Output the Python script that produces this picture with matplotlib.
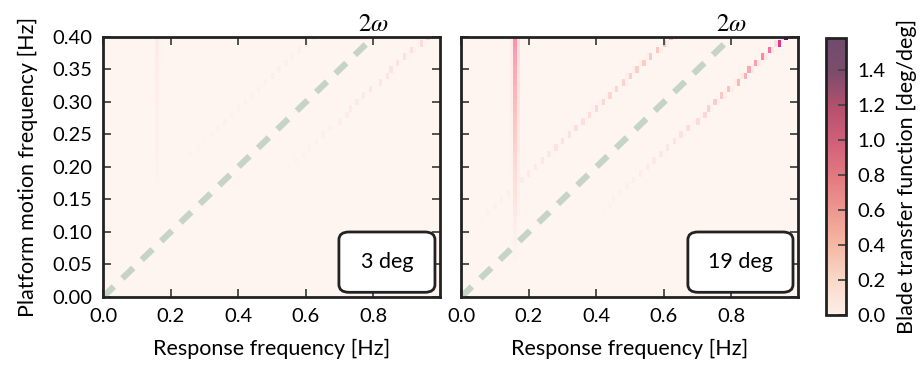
"""
Blade transfer function maps for two platform pitch amplitudes.
"""

import numpy as np
import matplotlib
matplotlib.use("Agg")
import matplotlib.pyplot as plt
from matplotlib.colors import LinearSegmentedColormap, Normalize
from matplotlib.patches import FancyBboxPatch
from matplotlib.cm import ScalarMappable

plt.rcParams["font.family"] = ["Lato", "DejaVu Sans"]
plt.rcParams["mathtext.fontset"] = "stix"

# grid of the maps
response_freq = np.round(np.arange(0.0, 1.0, 0.01), 2)      # columns [Hz]
platform_freq = np.round(np.arange(0.0, 0.405, 0.01), 2)    # rows [Hz]

# feature positions (response frequency)
blade_freq = 0.16           # vertical line
upper_offset = -0.18        # ridge at 2*f_platform + offset
lower_offset = 0.155

background = 0.02

# amplitudes per platform frequency row (0.00 ... 0.40)
amp3_vertical = [0.0, 0.0, 0.0, 0.0, 0.0, 0.01, 0.01, 0.01, 0.01, 0.01,
                 0.02, 0.02, 0.02, 0.02, 0.03, 0.03, 0.03, 0.03, 0.04, 0.04,
                 0.04, 0.04, 0.05, 0.05, 0.05, 0.05, 0.06, 0.06, 0.06, 0.06,
                 0.07, 0.07, 0.07, 0.08, 0.08, 0.08, 0.09, 0.09, 0.10, 0.10, 0.11]
amp3_upper = [0.0, 0.0, 0.0, 0.0, 0.0, 0.0, 0.0, 0.0, 0.0, 0.0,
              0.0, 0.0, 0.01, 0.01, 0.01, 0.02, 0.02, 0.02, 0.03, 0.03,
              0.03, 0.03, 0.04, 0.04, 0.04, 0.04, 0.05, 0.05, 0.05, 0.05,
              0.06, 0.06, 0.06, 0.06, 0.07, 0.07, 0.07, 0.07, 0.08, 0.08, 0.08]
amp3_lower = [0.0, 0.0, 0.0, 0.0, 0.0, 0.0, 0.0, 0.0, 0.0, 0.0,
              0.0, 0.0, 0.0, 0.0, 0.0, 0.01, 0.02, 0.02, 0.03, 0.03,
              0.04, 0.04, 0.05, 0.05, 0.06, 0.07, 0.07, 0.08, 0.09, 0.10,
              0.11, 0.12, 0.13, 0.14, 0.15, 0.16, 0.17, 0.19, 0.21, 0.23, 0.25]

amp19_vertical = [0.01, 0.01, 0.02, 0.02, 0.03, 0.03, 0.04, 0.04, 0.05, 0.06,
                  0.07, 0.08, 0.09, 0.11, 0.13, 0.15, 0.17, 0.19, 0.20, 0.22,
                  0.24, 0.26, 0.28, 0.30, 0.32, 0.34, 0.36, 0.38, 0.40, 0.42,
                  0.44, 0.46, 0.48, 0.50, 0.52, 0.54, 0.56, 0.58, 0.60, 0.63, 0.66]
amp19_upper = [0.0, 0.0, 0.0, 0.0, 0.0, 0.0, 0.0, 0.0, 0.0, 0.01,
               0.02, 0.03, 0.04, 0.05, 0.06, 0.07, 0.08, 0.09, 0.10, 0.11,
               0.12, 0.13, 0.14, 0.16, 0.17, 0.18, 0.20, 0.21, 0.22, 0.24,
               0.25, 0.27, 0.28, 0.30, 0.31, 0.33, 0.34, 0.36, 0.38, 0.40, 0.42]
amp19_lower = [0.0, 0.0, 0.0, 0.0, 0.0, 0.0, 0.0, 0.0, 0.0, 0.0,
               0.02, 0.03, 0.03, 0.04, 0.04, 0.05, 0.06, 0.07, 0.08, 0.09,
               0.10, 0.11, 0.13, 0.14, 0.16, 0.18, 0.20, 0.23, 0.26, 0.30,
               0.34, 0.38, 0.42, 0.46, 0.50, 0.55, 0.60, 0.67, 0.76, 0.98, 1.45]

panel_labels = ["3 deg", "19 deg"]

# 2*omega reference line
twice_x = [0.0, 0.8]
twice_y = [0.0, 0.4]

x_ticks = [0.0, 0.2, 0.4, 0.6, 0.8]
y_ticks = [0.00, 0.05, 0.10, 0.15, 0.20, 0.25, 0.30, 0.35, 0.40]
cbar_ticks = [0.0, 0.2, 0.4, 0.6, 0.8, 1.0, 1.2, 1.4]
vmax = 1.58

cbar_colors = ["#fcefe8", "#f9d8c8", "#f5b8a5", "#ee9890", "#e27a80",
               "#d0607a", "#b5506e", "#7d4c6c", "#6f4c6c"]


def build_map(vertical, upper, lower):
    grid = np.full((len(platform_freq), len(response_freq)), background)
    last = len(response_freq) - 1

    def put(i, j, amp):
        if 0 <= j <= last:
            grid[i, j] = max(grid[i, j], amp)

    for i, fp in enumerate(platform_freq):
        # blade line with soft edges
        j = int(np.argmin(np.abs(response_freq - blade_freq)))
        put(i, j, vertical[i])
        put(i, j + 1, 0.35 * vertical[i])
        put(i, j - 1, 0.15 * vertical[i])
        for pos, amp in ((2 * fp + upper_offset, upper[i]),
                         (2 * fp + lower_offset, lower[i])):
            if amp <= 0 or pos < -0.005 or pos > response_freq[-1] + 0.005:
                continue
            j = int(np.argmin(np.abs(response_freq - pos)))
            side = 1 if pos > response_freq[j] else -1
            put(i, j, amp)
            put(i, j + side, 0.2 * amp)
    return grid


def style_axes(ax):
    for sp in ax.spines.values():
        sp.set_linewidth(2.0)
        sp.set_color("#222222")
    ax.tick_params(direction="in", length=6, width=1.3, color="#444444",
                   top=True, right=True, labelsize=14.5, pad=8)


maps = [build_map(amp3_vertical, amp3_upper, amp3_lower),
        build_map(amp19_vertical, amp19_upper, amp19_lower)]

fig = plt.figure(figsize=(9.24, 3.73), dpi=100)
ax_lefts = [0.1115, 0.499]
box_x = [0.70, 0.673]

for k, (grid, label) in enumerate(zip(maps, panel_labels)):
    ax = fig.add_axes([ax_lefts[k], 0.2038, 0.3647, 0.697])
    ax.imshow(grid, origin="lower", aspect="auto", cmap="RdPu",
              vmin=0, vmax=vmax, interpolation="nearest",
              extent=[response_freq[0] - 0.005, response_freq[-1] + 0.005,
                      platform_freq[0] - 0.005, platform_freq[-1] + 0.005])
    ax.plot(twice_x, twice_y, color="#c6d4c8", lw=4.5,
            dashes=[2.4, 1.9], solid_capstyle="butt")
    ax.text(0.8, 0.403, r"$2\omega$", ha="center", va="bottom", fontsize=18)
    ax.set_xlim(0, 0.997)
    ax.set_ylim(0, 0.40)
    ax.set_xticks(x_ticks)
    ax.set_yticks(y_ticks)
    ax.xaxis.set_major_formatter(plt.FormatStrFormatter("%.1f"))
    ax.yaxis.set_major_formatter(plt.FormatStrFormatter("%.2f"))
    style_axes(ax)
    if k == 0:
        ax.set_ylabel("Platform motion frequency [Hz]", fontsize=15.5, labelpad=10)
    else:
        ax.set_yticklabels([])
    ax.set_xlabel("Response frequency [Hz]", fontsize=15.5, labelpad=10)

    bw = 0.985 - box_x[k]
    box = FancyBboxPatch((box_x[k], 0.018), bw, 0.232,
                         boxstyle="round,pad=0,rounding_size=0.03",
                         transform=ax.transAxes, facecolor="white",
                         edgecolor="#222222", linewidth=2.0, zorder=5)
    ax.add_patch(box)
    ax.text(box_x[k] + bw / 2, 0.134, label, transform=ax.transAxes,
            ha="center", va="center", fontsize=15.5, zorder=6)

cax = fig.add_axes([0.894, 0.155, 0.0216, 0.743])
cmap_bar = LinearSegmentedColormap.from_list("bar", cbar_colors)
sm = ScalarMappable(norm=Normalize(0, vmax), cmap=cmap_bar)
cb = fig.colorbar(sm, cax=cax)
cb.set_ticks(cbar_ticks)
cb.ax.yaxis.set_major_formatter(plt.FormatStrFormatter("%.1f"))
cb.outline.set_linewidth(2.0)
cb.outline.set_edgecolor("#222222")
cb.ax.tick_params(direction="in", length=6, width=1.3, color="#444444",
                  labelsize=14.5, pad=8)
cb.set_label("Blade transfer function [deg/deg]", fontsize=15.5, labelpad=8)

fig.savefig("out.png", dpi=100)
